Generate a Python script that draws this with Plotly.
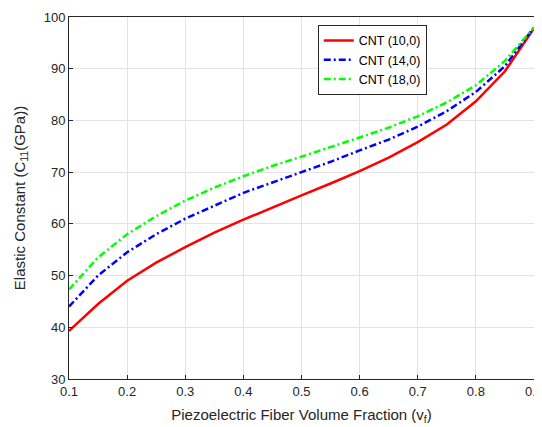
import plotly.graph_objects as go

vf = [0.1, 0.15, 0.2, 0.25, 0.3, 0.35, 0.4, 0.45, 0.5, 0.55, 0.6, 0.65, 0.7, 0.75, 0.8, 0.85, 0.9]
cnt_10_0 = [39.3, 44.5, 49.0, 52.5, 55.5, 58.3, 60.8, 63.2, 65.5, 67.8, 70.2, 72.8, 75.8, 79.2, 83.7, 89.5, 97.8]
cnt_14_0 = [44.0, 50.0, 54.5, 58.0, 61.0, 63.5, 66.0, 68.0, 70.0, 72.0, 74.2, 76.3, 78.8, 81.8, 85.5, 90.5, 98.0]
cnt_18_0 = [47.3, 53.5, 58.0, 61.5, 64.5, 67.0, 69.2, 71.2, 73.0, 74.8, 76.7, 78.6, 80.8, 83.5, 86.8, 91.5, 98.0]

x_ticks = [0.1, 0.2, 0.3, 0.4, 0.5, 0.6, 0.7, 0.8, 0.9]
y_ticks = [30, 40, 50, 60, 70, 80, 90, 100]

fig = go.Figure()
fig.add_trace(go.Scatter(x=vf, y=cnt_10_0, mode="lines", name="CNT (10,0)",
                         line=dict(color="#ff0000", width=2.5)))
fig.add_trace(go.Scatter(x=vf, y=cnt_14_0, mode="lines", name="CNT (14,0)",
                         line=dict(color="#0000ff", width=2.5, dash="7px,3px,2px,3px")))
fig.add_trace(go.Scatter(x=vf, y=cnt_18_0, mode="lines", name="CNT (18,0)",
                         line=dict(color="#00ff00", width=2.5, dash="7px,3px,2px,3px")))

axis_common = dict(showline=True, linecolor="#262626", linewidth=1, mirror=True,
                   ticks="inside", ticklen=4, tickcolor="#262626",
                   showgrid=True, gridcolor="#e3e3e3", gridwidth=1, zeroline=False,
                   automargin=False, ticklabeloverflow="allow",
                   tickfont=dict(family="Liberation Sans, Arial", size=13, color="#262626"))

fig.update_layout(
    width=534, height=419,
    margin=dict(l=61, r=8, t=9, b=48),
    paper_bgcolor="white", plot_bgcolor="white",
    font=dict(family="Liberation Sans, Arial", color="#262626"),
    xaxis=dict(range=[0.1, 0.9], tickvals=x_ticks, ticktext=[str(t) for t in x_ticks],
               title=dict(text="Piezoelectric Fiber Volume Fraction (v<sub>f</sub>)",
                          font=dict(size=15, color="#262626"), standoff=11),
               **axis_common),
    yaxis=dict(range=[30, 100], tickvals=y_ticks,
               title=dict(text="Elastic Constant (C<sub>11</sub>(GPa))",
                          font=dict(size=15, color="#262626"), standoff=14),
               **axis_common),
    legend=dict(x=0.535, y=0.978, xanchor="left", yanchor="top",
                bgcolor="white", bordercolor="#262626", borderwidth=1,
                font=dict(family="Liberation Sans, Arial", size=12.5, color="#000000"),
                tracegroupgap=0),
    showlegend=True,
)

fig.write_html("out.html")
